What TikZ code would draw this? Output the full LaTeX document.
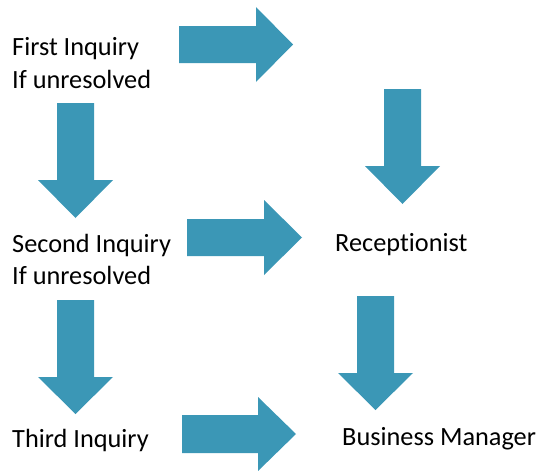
\documentclass[tikz,border=0pt]{standalone}
\usepackage{fontspec}
\setmainfont[Ligatures={NoCommon}]{Carlito}
\definecolor{arrowblue}{HTML}{3B97B6}
\begin{document}
\begin{tikzpicture}[x=1pt,y=-1pt,
  txt/.style={font=\fontsize{26.3}{31}\selectfont, anchor=base west, inner sep=0pt},
  blk/.style={fill=arrowblue, draw=none}]
\useasboundingbox (0,0) rectangle (539,471);
% texts
\node[txt] (first)  at (12,55)  {First Inquiry};
\node[txt] (ifu1)   at (12,88)  {If unresolved};
\node[txt] (second) at (12,252) {Second Inquiry};
\node[txt] (ifu2)   at (12,284) {If unresolved};
\node[txt] (third)  at (12,447) {Third Inquiry};
\node[txt] (recep)  at (335,251) {Receptionist};
\node[txt] (bm)     at (342,445) {Business Manager};
% right arrows
\fill[blk] (179,26) -- (256,26) -- (256,7) -- (293,44.5) -- (256,82) -- (256,63) -- (179,63) -- cycle;
\fill[blk] (187,219) -- (264,219) -- (264,200) -- (302,237.5) -- (264,275) -- (264,256) -- (187,256) -- cycle;
\fill[blk] (182,415) -- (258,415) -- (258,397) -- (296,434) -- (258,471) -- (258,453) -- (182,453) -- cycle;
% down arrows
\fill[blk] (57,103) -- (57,180) -- (38,180) -- (75.5,218) -- (113,180) -- (94,180) -- (94,103) -- cycle;
\fill[blk] (57,300) -- (57,377) -- (38,377) -- (75.5,414) -- (113,377) -- (94,377) -- (94,300) -- cycle;
\fill[blk] (384,89) -- (384,166) -- (365,166) -- (402.5,204) -- (440,166) -- (421,166) -- (421,89) -- cycle;
\fill[blk] (357,296) -- (357,373) -- (338,373) -- (375.5,410) -- (413,373) -- (394,373) -- (394,296) -- cycle;
\end{tikzpicture}
\end{document}
